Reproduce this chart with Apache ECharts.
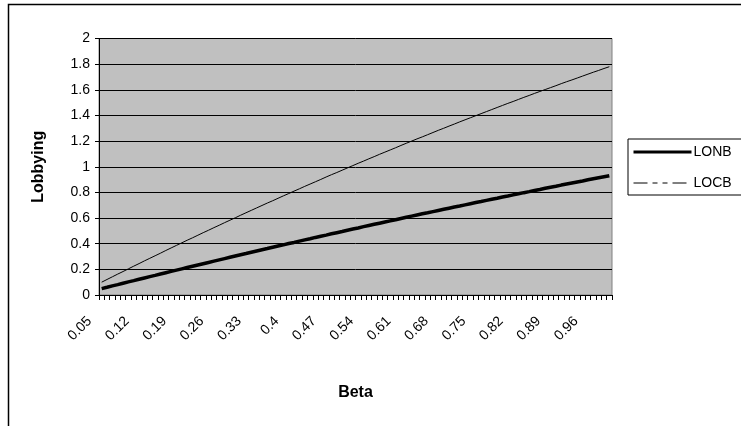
<!DOCTYPE html>
<html>
<head>
<meta charset="utf-8">
<script src="https://cdn.jsdelivr.net/npm/echarts@6/dist/echarts.min.js"></script>
<style>
  html, body { margin: 0; padding: 0; background: #ffffff; }
  #chart { width: 741px; height: 426px; }
</style>
</head>
<body>
<div id="chart"></div>
<script>
// Beta values along the horizontal axis
const betaValues = [
  0.05, 0.06, 0.07, 0.08, 0.09, 0.1, 0.11, 0.12, 0.13, 0.14,
  0.15, 0.16, 0.17, 0.18, 0.19, 0.2, 0.21, 0.22, 0.23, 0.24,
  0.25, 0.26, 0.27, 0.28, 0.29, 0.3, 0.31, 0.32, 0.33, 0.34,
  0.35, 0.36, 0.37, 0.38, 0.39, 0.4, 0.41, 0.42, 0.43, 0.44,
  0.45, 0.46, 0.47, 0.48, 0.49, 0.5, 0.51, 0.52, 0.53, 0.54,
  0.55, 0.56, 0.57, 0.58, 0.59, 0.6, 0.61, 0.62, 0.63, 0.64,
  0.65, 0.66, 0.67, 0.68, 0.69, 0.7, 0.71, 0.72, 0.73, 0.74,
  0.75, 0.76, 0.77, 0.78, 0.79, 0.8, 0.81, 0.82, 0.83, 0.84,
  0.85, 0.86, 0.87, 0.88, 0.89, 0.9, 0.91, 0.92, 0.93, 0.94,
  0.95, 0.96, 0.97, 0.98, 0.99, 1
];

// Lobbying level, LONB
const lonb = [
  0.050, 0.060, 0.071, 0.081, 0.092, 0.102, 0.112, 0.123, 0.133, 0.143,
  0.153, 0.164, 0.174, 0.184, 0.194, 0.204, 0.214, 0.224, 0.234, 0.244,
  0.254, 0.264, 0.274, 0.284, 0.294, 0.304, 0.314, 0.323, 0.333, 0.343,
  0.353, 0.362, 0.372, 0.382, 0.391, 0.401, 0.410, 0.420, 0.430, 0.439,
  0.449, 0.458, 0.467, 0.477, 0.486, 0.495, 0.505, 0.514, 0.523, 0.533,
  0.542, 0.551, 0.560, 0.569, 0.578, 0.587, 0.597, 0.606, 0.615, 0.624,
  0.633, 0.641, 0.650, 0.659, 0.668, 0.677, 0.686, 0.694, 0.703, 0.712,
  0.721, 0.729, 0.738, 0.747, 0.755, 0.764, 0.772, 0.781, 0.789, 0.798,
  0.806, 0.815, 0.823, 0.832, 0.840, 0.848, 0.857, 0.865, 0.873, 0.881,
  0.889, 0.898, 0.906, 0.914, 0.922, 0.930
];

// Lobbying level, LOCB
const locb = [
  0.100, 0.121, 0.142, 0.163, 0.183, 0.204, 0.225, 0.245, 0.266, 0.286,
  0.306, 0.326, 0.347, 0.367, 0.387, 0.407, 0.427, 0.446, 0.466, 0.486,
  0.505, 0.525, 0.544, 0.564, 0.583, 0.602, 0.622, 0.641, 0.660, 0.679,
  0.698, 0.717, 0.735, 0.754, 0.773, 0.791, 0.810, 0.828, 0.847, 0.865,
  0.883, 0.901, 0.920, 0.938, 0.955, 0.973, 0.991, 1.009, 1.027, 1.044,
  1.062, 1.079, 1.097, 1.114, 1.131, 1.148, 1.166, 1.183, 1.200, 1.217,
  1.233, 1.250, 1.267, 1.284, 1.300, 1.317, 1.333, 1.350, 1.366, 1.382,
  1.398, 1.414, 1.430, 1.446, 1.462, 1.478, 1.494, 1.509, 1.525, 1.541,
  1.556, 1.572, 1.587, 1.602, 1.617, 1.632, 1.648, 1.663, 1.677, 1.692,
  1.707, 1.722, 1.737, 1.751, 1.766, 1.780
];

const seriesNames = ['LONB', 'LOCB'];

const FONT = "'Liberation Sans', Arial, sans-serif";

const chart = echarts.init(document.getElementById('chart'), null, { renderer: 'canvas' });

chart.setOption({
  backgroundColor: '#ffffff',
  animation: false,
  textStyle: { fontFamily: FONT, color: '#000' },
  graphic: [
    {
      // outer chart frame
      type: 'rect',
      shape: { x: 8.5, y: 4.5, width: 745, height: 440 },
      style: { fill: 'none', stroke: '#000', lineWidth: 1.5 },
      silent: true,
      z: -1
    }
  ],
  grid: {
    left: 99,
    top: 38.5,
    width: 513,
    height: 256.5,
    show: true,
    backgroundColor: '#c0c0c0',
    borderColor: '#808080',
    borderWidth: 1
  },
  legend: {
    orient: 'vertical',
    left: 628,
    top: 139,
    padding: [6, 20, 5, 4],
    itemGap: 17,
    itemWidth: 58,
    itemHeight: 14,
    borderColor: '#000',
    borderWidth: 1,
    backgroundColor: '#fff',
    itemStyle: { opacity: 0 },
    textStyle: { fontFamily: FONT, fontSize: 14, color: '#000', padding: [0, 0, 0, -3] },
    data: [
      { name: 'LONB', itemStyle: { opacity: 0 }, lineStyle: { width: 3, type: 'solid', color: '#000' } },
      { name: 'LOCB', itemStyle: { opacity: 0 }, lineStyle: { width: 1, type: [14, 5, 5, 5, 5, 5], color: '#000' } }
    ]
  },
  xAxis: {
    type: 'category',
    data: betaValues,
    boundaryGap: true,
    name: 'Beta',
    nameLocation: 'middle',
    nameGap: 90,
    nameTextStyle: { fontFamily: FONT, fontSize: 16, fontWeight: 'bold', color: '#000' },
    axisLine: { show: true, lineStyle: { color: '#000', width: 1 } },
    axisTick: { show: true, interval: 0, length: 5, lineStyle: { color: '#000' } },
    axisLabel: {
      interval: 6,
      rotate: 45,
      margin: 12,
      padding: [0, 17, 0, 0],
      fontFamily: FONT,
      fontSize: 14,
      color: '#000'
    },
    splitLine: { show: false }
  },
  yAxis: {
    type: 'value',
    min: 0,
    max: 2,
    interval: 0.2,
    name: 'Lobbying',
    nameLocation: 'middle',
    nameGap: 52,
    nameRotate: 90,
    nameTextStyle: { fontFamily: FONT, fontSize: 16, fontWeight: 'bold', color: '#000' },
    axisLine: { show: true, lineStyle: { color: '#000', width: 1 } },
    axisTick: { show: true, length: 4, lineStyle: { color: '#000' } },
    axisLabel: {
      margin: 9,
      fontFamily: FONT,
      fontSize: 14,
      color: '#000',
      formatter: v => String(Math.round(v * 10) / 10)
    },
    splitLine: { show: true, lineStyle: { color: '#000', width: 1 } }
  },
  series: [
    {
      name: seriesNames[0],
      type: 'line',
      data: lonb,
      symbol: 'none',
      smooth: false,
      lineStyle: { color: '#000', width: 3.5 },
      itemStyle: { color: '#000' }
    },
    {
      name: seriesNames[1],
      type: 'line',
      data: locb,
      symbol: 'none',
      smooth: false,
      lineStyle: { color: '#000', width: 1 },
      itemStyle: { color: '#000' }
    }
  ]
});
</script>
</body>
</html>
